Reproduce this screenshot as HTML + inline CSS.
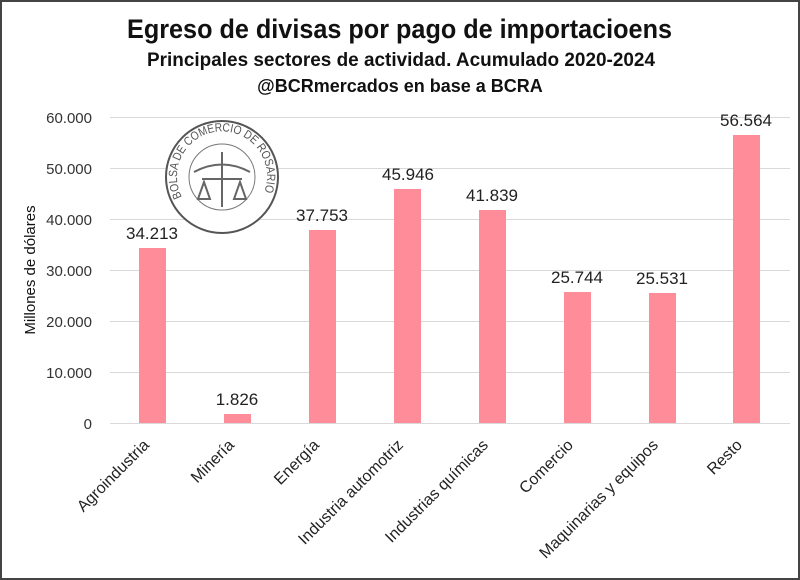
<!DOCTYPE html>
<html><head><meta charset="utf-8"><style>
body{margin:0;background:#fff;}
svg{display:block;font-family:"Liberation Sans",sans-serif;}
</style></head><body>
<svg width="800" height="580" xmlns="http://www.w3.org/2000/svg">
<defs><path id="arc" d="M-40,20 A45,45 0 1 1 40,20"/></defs>
<rect x="0" y="0" width="800" height="580" fill="#fff"/>
<rect x="1" y="1" width="798" height="578" fill="none" stroke="#444" stroke-width="2"/>
<text x="127" y="38" textLength="545" lengthAdjust="spacingAndGlyphs" font-size="27" font-weight="bold" fill="#111">Egreso de divisas por pago de importacioens</text>
<text x="147" y="66" textLength="508" lengthAdjust="spacingAndGlyphs" font-size="19" font-weight="bold" fill="#111">Principales sectores de actividad. Acumulado 2020-2024</text>
<text x="400" y="92" text-anchor="middle" font-size="18" font-weight="bold" fill="#111">@BCRmercados en base a BCRA</text>
<g stroke="#d9d9d9" stroke-width="1">
<line x1="110" x2="790" y1="117.5" y2="117.5"/><line x1="110" x2="790" y1="168.5" y2="168.5"/>
<line x1="110" x2="790" y1="219.5" y2="219.5"/><line x1="110" x2="790" y1="270.5" y2="270.5"/>
<line x1="110" x2="790" y1="321.5" y2="321.5"/><line x1="110" x2="790" y1="372.5" y2="372.5"/>
<line x1="110" x2="790" y1="423.5" y2="423.5"/>
</g>
<g font-size="15" fill="#333" text-anchor="end">
<text x="92" y="123">60.000</text><text x="92" y="174">50.000</text><text x="92" y="225">40.000</text>
<text x="92" y="276">30.000</text><text x="92" y="327">20.000</text><text x="92" y="378">10.000</text>
<text x="92" y="429">0</text>
</g>
<text transform="translate(35,270) rotate(-90)" text-anchor="middle" font-size="15" fill="#111">Millones de dólares</text>
<g transform="translate(222,177)">
<circle r="56" fill="#fff" stroke="#555" stroke-width="2"/>
<circle r="33" fill="none" stroke="#777" stroke-width="1"/>
<text font-size="12" fill="#555"><textPath href="#arc" textLength="178" lengthAdjust="spacingAndGlyphs">BOLSA DE COMERCIO DE ROSARIO</textPath></text>
<path d="M-28,-5 Q0,-20 28,-5 M-20,2 L20,2 M0,-25 L0,30 M-18,5 L-24,22 L-12,22 Z M18,5 L24,22 L12,22 Z" fill="none" stroke="#666" stroke-width="2"/>
</g>
<g fill="#ff8c99">
<rect x="139" y="248" width="27" height="175"/>
<rect x="224" y="414" width="27" height="9"/>
<rect x="309" y="230" width="27" height="193"/>
<rect x="394" y="189" width="27" height="234"/>
<rect x="479" y="210" width="27" height="213"/>
<rect x="564" y="292" width="27" height="131"/>
<rect x="649" y="293" width="27" height="130"/>
<rect x="733" y="135" width="27" height="288"/>
</g>
<g font-size="17" fill="#222" text-anchor="middle">
<text x="152" y="239">34.213</text><text x="237" y="405">1.826</text><text x="322" y="221">37.753</text>
<text x="408" y="180">45.946</text><text x="492" y="201">41.839</text><text x="577" y="283">25.744</text>
<text x="662" y="284">25.531</text><text x="746" y="126">56.564</text>
</g>
<g font-size="16" fill="#222" text-anchor="end">
<text transform="translate(150,446) rotate(-45)">Agroindustria</text>
<text transform="translate(235,446) rotate(-45)">Minería</text>
<text transform="translate(320,446) rotate(-45)">Energía</text>
<text transform="translate(404,446) rotate(-45)">Industria automotriz</text>
<text transform="translate(489,446) rotate(-45)">Industrias químicas</text>
<text transform="translate(574,446) rotate(-45)">Comercio</text>
<text transform="translate(659,446) rotate(-45)">Maquinarias y equipos</text>
<text transform="translate(743,446) rotate(-45)">Resto</text>
</g>
</svg>
</body></html>
